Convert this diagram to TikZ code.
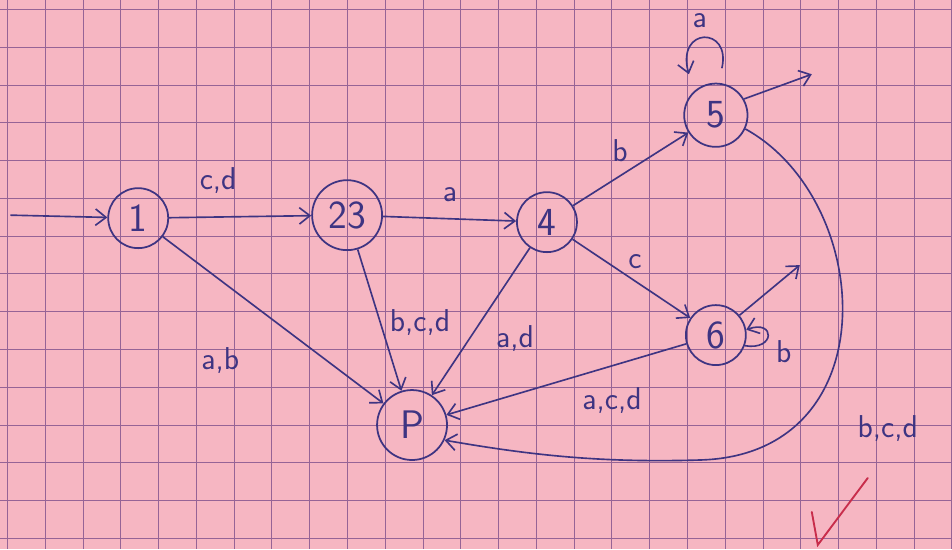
\documentclass[tikz,border=0pt]{standalone}
\usepackage{tikz}
\usetikzlibrary{arrows.meta}
\definecolor{paper}{RGB}{246,182,194}
\definecolor{gridline}{RGB}{150,100,150}
\definecolor{ink}{RGB}{62,52,130}
\definecolor{tick}{RGB}{200,45,75}

\begin{document}
\begin{tikzpicture}[
    x = 0.03cm, y = -0.03cm,
    state/.style = {
      draw          = ink,
      circle,
      line width    = 1.5pt,
      minimum size  = 1.8cm,
      inner sep     = 0pt,
      text          = ink,
      font          = \sffamily\fontsize{34}{38}\selectfont
    },
    lbl/.style   = {text = ink, inner sep = 1pt, font = \sffamily\fontsize{27}{30}\selectfont},
    move/.style  = {draw = ink, line width = 1.4pt, -{Straight Barb[length=9pt,width=14pt,line width=1.4pt]}}
  ]
  % squared paper
  \fill[paper] (0,0) rectangle (952,549);
  \foreach \k in {0,...,25} {
    \draw[gridline, line width=0.5pt] ({7+37.8*\k},0) -- ({7+37.8*\k},549);
  }
  \foreach \k in {0,...,14} {
    \draw[gridline, line width=0.5pt] (0,{9+37.8*\k}) -- (952,{9+37.8*\k});
  }

  % states
  \node[state] (q1)  at (138,218) {1};
  \node[state, minimum size=2.1cm] (q23) at (347,215) {23};
  \node[state] (q4)  at (547,222) {4};
  \node[state, minimum size=1.9cm] (q5)  at (716,115) {5};
  \node[state] (q6)  at (716,335) {6};
  \node[state, minimum size=2.1cm] (qP)  at (412,425) {P};

  % entry and exits
  \coordinate (start) at (10,215);
  \coordinate (out5)  at (812,74);
  \coordinate (out6)  at (800,265);
  \draw[move] (start) -- (q1);
  \draw[move] (q5.30) -- (out5);
  \draw[move] (q6.40) -- (out6);

  % transitions
  \draw[move] (q1)  -- (q23);
  \draw[move] (q23) -- (q4);
  \draw[move] (q4)  -- (q5);
  \draw[move] (q4)  -- (q6);
  \draw[move] (q1)  -- (qP);
  \draw[move] (q23) -- (qP);
  \draw[move] (q4)  -- (qP);
  \draw[move] (q6)  -- (qP);
  \draw[move] (q5.-25) .. controls (875,200) and (890,455) .. (700,460)
                       .. controls (600,463) and (530,455) .. (qP.-25);
  % loops
  \coordinate (loop5a) at (722,68);
  \coordinate (loop5b) at (689,74);
  \draw[move] (loop5a) .. controls (732,26) and (676,26) .. (loop5b);
  \draw[move] (q6.-20) to[out=-10, in=20, looseness=5] (q6.10);

  % labels
  \node[lbl] (l12)  at (218,180) {c,d};
  \node[lbl] (l234) at (450,194) {a};
  \node[lbl] (l45)  at (620,150) {b};
  \node[lbl] (l46)  at (635,262) {c};
  \node[lbl] (l1P)  at (220,360) {a,b};
  \node[lbl] (l23P) at (420,322) {b,c,d};
  \node[lbl] (l4P)  at (515,338) {a,d};
  \node[lbl] (l6P)  at (612,400) {a,c,d};
  \node[lbl] (l5P)  at (888,428) {b,c,d};
  \node[lbl, inner sep=0pt] (l55) at (700,20) {a};
  \node[lbl] (l66)  at (784,352) {b};

  % teacher's tick
  \draw[tick, line width=1.6pt, line cap=round] (812,512) -- (818,545) -- (868,478);
\end{tikzpicture}
\end{document}
